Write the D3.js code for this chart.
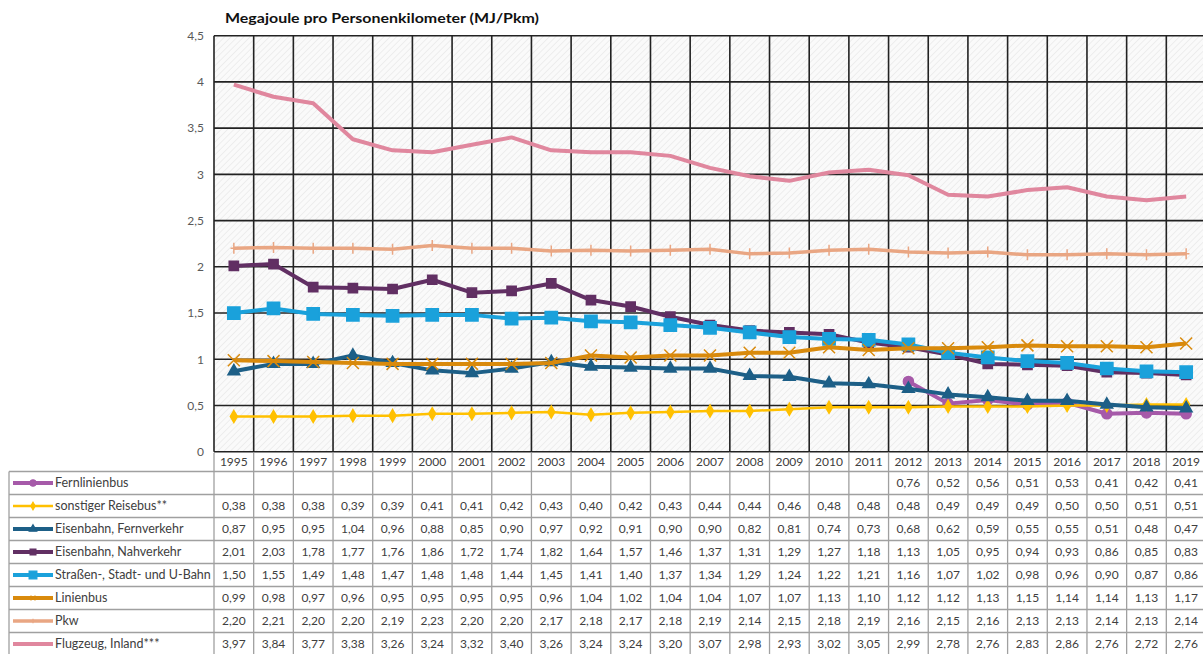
<!DOCTYPE html>
<html>
<head>
<meta charset="utf-8">
<script src="https://cdn.jsdelivr.net/npm/d3@7"></script>
<style>
  body { margin: 0; background: #fff; overflow: hidden; }
  text { font-family: Lato, "Open Sans", sans-serif; }
</style>
</head>
<body>
<div id="chart"></div>
<script>
const years = [1995, 1996, 1997, 1998, 1999, 2000, 2001, 2002, 2003, 2004, 2005, 2006,
  2007, 2008, 2009, 2010, 2011, 2012, 2013, 2014, 2015, 2016, 2017, 2018, 2019];
const yTicks = [0, 0.5, 1, 1.5, 2, 2.5, 3, 3.5, 4, 4.5];
const seriesNames = ["Fernlinienbus", "sonstiger Reisebus**", "Eisenbahn, Fernverkehr",
  "Eisenbahn, Nahverkehr", "Straßen-, Stadt- und U-Bahn", "Linienbus", "Pkw", "Flugzeug, Inland***"];

const fernlinienbus = [null, null, null, null, null, null, null, null, null, null, null, null,
  null, null, null, null, null, 0.76, 0.52, 0.56, 0.51, 0.53, 0.41, 0.42, 0.41];
const reisebus = [0.38, 0.38, 0.38, 0.39, 0.39, 0.41, 0.41, 0.42, 0.43, 0.40, 0.42, 0.43,
  0.44, 0.44, 0.46, 0.48, 0.48, 0.48, 0.49, 0.49, 0.49, 0.50, 0.50, 0.51, 0.51];
const fernverkehr = [0.87, 0.95, 0.95, 1.04, 0.96, 0.88, 0.85, 0.90, 0.97, 0.92, 0.91, 0.90,
  0.90, 0.82, 0.81, 0.74, 0.73, 0.68, 0.62, 0.59, 0.55, 0.55, 0.51, 0.48, 0.47];
const nahverkehr = [2.01, 2.03, 1.78, 1.77, 1.76, 1.86, 1.72, 1.74, 1.82, 1.64, 1.57, 1.46,
  1.37, 1.31, 1.29, 1.27, 1.18, 1.13, 1.05, 0.95, 0.94, 0.93, 0.86, 0.85, 0.83];
const strassenbahn = [1.50, 1.55, 1.49, 1.48, 1.47, 1.48, 1.48, 1.44, 1.45, 1.41, 1.40, 1.37,
  1.34, 1.29, 1.24, 1.22, 1.21, 1.16, 1.07, 1.02, 0.98, 0.96, 0.90, 0.87, 0.86];
const linienbus = [0.99, 0.98, 0.97, 0.96, 0.95, 0.95, 0.95, 0.95, 0.96, 1.04, 1.02, 1.04,
  1.04, 1.07, 1.07, 1.13, 1.10, 1.12, 1.12, 1.13, 1.15, 1.14, 1.14, 1.13, 1.17];
const pkw = [2.20, 2.21, 2.20, 2.20, 2.19, 2.23, 2.20, 2.20, 2.17, 2.18, 2.17, 2.18,
  2.19, 2.14, 2.15, 2.18, 2.19, 2.16, 2.15, 2.16, 2.13, 2.13, 2.14, 2.13, 2.14];
const flugzeug = [3.97, 3.84, 3.77, 3.38, 3.26, 3.24, 3.32, 3.40, 3.26, 3.24, 3.24, 3.20,
  3.07, 2.98, 2.93, 3.02, 3.05, 2.99, 2.78, 2.76, 2.83, 2.86, 2.76, 2.72, 2.76];

function chart() {
  const W = 1203, H = 654;
  const plot = { left: 214, top: 35.7, bottom: 451.7, colW: 39.68 };
  const table = { left: 9, headerBottom: 471.5, rowH: 23 };

  const de = d3.formatLocale({ decimal: ",", thousands: ".", grouping: [3], currency: ["", "€"] });
  const fmtTick = de.format("~g");
  const fmt2 = de.format(".2f");

  // styles per series (same order as names)
  const styles = [
    { color: "#a65aa9", width: 4, marker: "circle", size: 80 },
    { color: "#ffc000", width: 2.5, marker: "diamond", size: 42 },
    { color: "#1d5f87", width: 4, marker: "triangle", size: 60 },
    { color: "#612f63", width: 4, marker: "square", size: 85 },
    { color: "#1aa1db", width: 4, marker: "square", size: 150 },
    { color: "#d98a0c", width: 4, marker: "x", size: 12 },
    { color: "#e9a683", width: 3.5, marker: "plus", size: 11 },
    { color: "#e0879e", width: 4, marker: "none", size: 0 }
  ];
  const values = [fernlinienbus, reisebus, fernverkehr, nahverkehr, strassenbahn, linienbus, pkw, flugzeug];
  const series = seriesNames.map((name, i) => ({
    name: name,
    style: styles[i],
    points: years.map((yr, j) => ({ year: yr, value: values[i][j] }))
  }));

  const svg = d3.select("#chart").append("svg").attr("width", W).attr("height", H);

  // hatch background
  const defs = svg.append("defs");
  const pat = defs.append("pattern")
    .attr("id", "hatch")
    .attr("patternUnits", "userSpaceOnUse")
    .attr("width", 4.5).attr("height", 4.5)
    .attr("patternTransform", "rotate(45)");
  pat.append("rect").attr("width", 4.5).attr("height", 4.5).attr("fill", "#fafafa");
  pat.append("line").attr("x1", 0).attr("y1", 0).attr("x2", 0).attr("y2", 4.5)
    .attr("stroke", "#e2e2e2").attr("stroke-width", 1);

  const x = d3.scaleBand().domain(years).range([plot.left, plot.left + years.length * plot.colW]).padding(0);
  const y = d3.scaleLinear().domain([0, 4.5]).range([plot.bottom, plot.top]);
  const cx = (yr) => x(yr) + x.bandwidth() / 2;
  const right = plot.left + years.length * plot.colW;

  svg.append("rect")
    .attr("x", plot.left).attr("y", plot.top)
    .attr("width", right - plot.left).attr("height", plot.bottom - plot.top)
    .attr("fill", "url(#hatch)");

  // title
  svg.append("text")
    .attr("x", 225).attr("y", 23)
    .attr("font-size", 13.5).attr("font-weight", "bold").attr("fill", "#111")
    .attr("textLength", 314).attr("lengthAdjust", "spacingAndGlyphs")
    .text("Megajoule pro Personenkilometer (MJ/Pkm)");

  // Y axis + horizontal gridlines
  const yAxis = svg.append("g")
    .attr("transform", `translate(${plot.left},0)`)
    .call(d3.axisLeft(y).tickValues(yTicks).tickFormat(fmtTick).tickSize(0).tickPadding(10));
  yAxis.select(".domain").remove();
  yAxis.selectAll("text").attr("font-size", 12).attr("fill", "#595959")
    .style("font-family", "Lato, 'Open Sans', sans-serif");

  svg.append("g").selectAll("line")
    .data(yTicks)
    .join("line")
    .attr("x1", plot.left).attr("x2", right)
    .attr("y1", (d) => y(d)).attr("y2", (d) => y(d))
    .attr("stroke", "#222").attr("stroke-width", 1.6);

  // vertical gridlines (column borders)
  svg.append("g").selectAll("line")
    .data(d3.range(years.length + 1))
    .join("line")
    .attr("x1", (i) => plot.left + i * plot.colW).attr("x2", (i) => plot.left + i * plot.colW)
    .attr("y1", plot.top).attr("y2", plot.bottom)
    .attr("stroke", "#222").attr("stroke-width", 1.6);

  // ---------- table ----------
  const tableBottom = table.headerBottom + seriesNames.length * table.rowH;
  const tg = svg.append("g").attr("stroke", "#a0a0a0").attr("stroke-width", 1.3);
  // verticals in data columns
  tg.selectAll("line.v")
    .data(d3.range(years.length + 1))
    .join("line")
    .attr("class", "v")
    .attr("x1", (i) => plot.left + i * plot.colW).attr("x2", (i) => plot.left + i * plot.colW)
    .attr("y1", plot.bottom + 1).attr("y2", tableBottom);
  tg.append("line").attr("x1", table.left).attr("x2", table.left)
    .attr("y1", table.headerBottom).attr("y2", tableBottom);
  // horizontals
  tg.selectAll("line.h")
    .data(d3.range(seriesNames.length + 1))
    .join("line")
    .attr("class", "h")
    .attr("x1", table.left).attr("x2", right)
    .attr("y1", (i) => table.headerBottom + i * table.rowH)
    .attr("y2", (i) => table.headerBottom + i * table.rowH);

  // year header
  svg.append("g").selectAll("text")
    .data(years)
    .join("text")
    .attr("x", (d) => cx(d)).attr("y", (plot.bottom + table.headerBottom) / 2 + 4)
    .attr("text-anchor", "middle").attr("font-size", 12).attr("fill", "#404040")
    .text((d) => d);

  // rows
  const rows = svg.append("g").selectAll("g")
    .data(series)
    .join("g")
    .attr("transform", (d, i) => `translate(0,${table.headerBottom + i * table.rowH})`);

  rows.selectAll("text.val")
    .data((d) => d.points.filter((p) => p.value != null))
    .join("text")
    .attr("class", "val")
    .attr("x", (p) => cx(p.year)).attr("y", table.rowH / 2 + 4)
    .attr("text-anchor", "middle").attr("font-size", 12).attr("fill", "#404040")
    .text((p) => fmt2(p.value));

  rows.append("line")
    .attr("x1", 13).attr("x2", 53)
    .attr("y1", table.rowH / 2).attr("y2", table.rowH / 2)
    .attr("stroke", (d) => d.style.color).attr("stroke-width", (d) => d.style.width);
  rows.append("path")
    .attr("transform", `translate(33,${table.rowH / 2})`)
    .attr("d", (d) => markerPath(d.style.marker, d.style.size * 0.4))
    .attr("fill", (d) => fillFor(d.style))
    .attr("stroke", (d) => d.style.color).attr("stroke-width", 1.2);
  rows.append("text")
    .attr("x", 55).attr("y", table.rowH / 2 + 4)
    .attr("font-size", 12.5).attr("fill", "#404040")
    .text((d) => d.name);

  // ---------- lines ----------
  const line = d3.line()
    .defined((p) => p.value != null)
    .x((p) => cx(p.year))
    .y((p) => y(p.value));

  const sg = svg.append("g").selectAll("g")
    .data(series)
    .join("g");

  sg.append("path")
    .attr("d", (d) => line(d.points))
    .attr("fill", "none")
    .attr("stroke", (d) => d.style.color)
    .attr("stroke-width", (d) => d.style.width)
    .attr("stroke-linejoin", "round");

  sg.selectAll("path.m")
    .data((d) => d.points.filter((p) => p.value != null).map((p) => ({ p: p, s: d.style })))
    .join("path")
    .attr("class", "m")
    .attr("transform", (d) => `translate(${cx(d.p.year)},${y(d.p.value)})`)
    .attr("d", (d) => markerPath(d.s.marker, d.s.size))
    .attr("fill", (d) => fillFor(d.s))
    .attr("stroke", (d) => d.s.color)
    .attr("stroke-width", 1.5);

  function fillFor(s) {
    return s.marker === "x" || s.marker === "plus" ? "none" : s.color;
  }

  function markerPath(type, size) {
    if (type === "none") return null;
    if (type === "x") {
      const h = size / 2;
      return `M${-h},${-h}L${h},${h}M${-h},${h}L${h},${-h}`;
    }
    if (type === "plus") {
      const h = size / 2;
      return `M0,${-h}L0,${h}M${-h * 0.6},0L${h * 0.6},0`;
    }
    const t = {
      circle: d3.symbolCircle,
      diamond: d3.symbolDiamond,
      triangle: d3.symbolTriangle,
      square: d3.symbolSquare
    }[type];
    return d3.symbol().type(t).size(size)();
  }
}

chart();
</script>
</body>
</html>
